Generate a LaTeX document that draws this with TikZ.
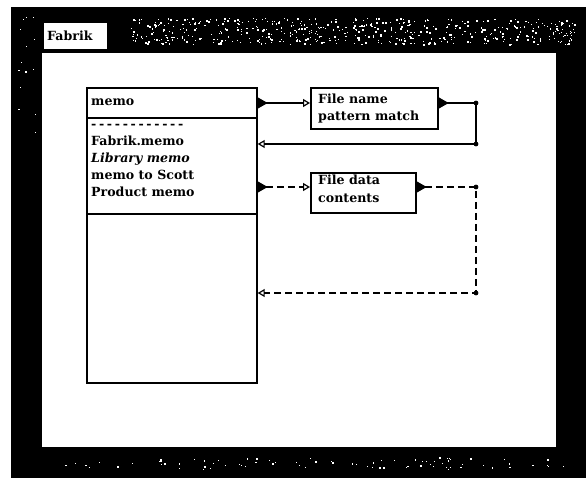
\documentclass[tikz,border=0pt]{standalone}
\usepackage{fontspec}
\setmainfont{DejaVu Serif}
\usetikzlibrary{arrows.meta}

% one spaced hyphen of the separator line in the file list
\newcommand\sepdash{\makebox[7.9pt][l]{-}}

\tikzset{
  win/.style={line width=1.7pt, draw=black, fill=white, inner sep=0pt,
              anchor=north west},
  label/.style={font=\fontsize{12.6}{17}\selectfont\bfseries,
                inner sep=0pt, anchor=base west},
  wire/.style={line width=1.5pt,
    arrows={Triangle[reversed,length=10pt,width=11pt]-Triangle[open,length=7pt,width=8pt,line width=1.2pt]}},
  dashwire/.style={wire, dash pattern=on 7pt off 4pt},
  joint/.style={fill=black}
}

\begin{document}
\begin{tikzpicture}[x=1pt,y=-1pt]
\useasboundingbox (0,0) rectangle (586,478);

% window frame and speckled title bar
\fill[black] (11,7) rectangle (586,478);
\pgfmathsetseed{42}
\foreach \i in {1,...,520}{
  \pgfmathsetmacro\px{130+445*rnd}
  \pgfmathsetmacro\py{18+26*rnd}
  \pgfmathsetmacro\ps{0.6+1.4*rnd}
  \fill[white] (\px,\py) rectangle ++(\ps,\ps);
}
\foreach \i in {1,...,80}{
  \pgfmathsetmacro\px{24+540*rnd}
  \pgfmathsetmacro\py{457+12*rnd}
  \pgfmathsetmacro\ps{0.6+1.1*rnd}
  \fill[white] (\px,\py) rectangle ++(\ps,\ps);
}
\foreach \i in {1,...,14}{
  \pgfmathsetmacro\px{15+20*rnd}
  \pgfmathsetmacro\py{15+130*rnd}
  \pgfmathsetmacro\ps{0.6+0.9*rnd}
  \fill[white] (\px,\py) rectangle ++(\ps,\ps);
}
\fill[white] (44,23) rectangle (107,49);
\node[label] (title) at (47,41) {Fabrik};
\fill[white] (42,53) rectangle (556,447);

% file browser column: pattern field, file list, file view
\node[win, minimum width=170pt, minimum height=30pt] (memo) at (86,87) {};
\node[label] (pattern) at (91,106) {memo};
\node[win, minimum width=170pt, minimum height=96pt] (list) at (86,117) {};
\node[label] (rule)  at (91,129) {\sepdash\sepdash\sepdash\sepdash\sepdash\sepdash\sepdash\sepdash\sepdash\sepdash\sepdash\sepdash};
\node[label] (f1) at (91,146) {Fabrik.memo};
\node[label] (f2) at (91,163) {\itshape Library memo};
\node[label] (f3) at (91,180) {memo to Scott};
\node[label] (f4) at (91,197) {Product memo};
\node[win, minimum width=170pt, minimum height=169pt] (view) at (86,213) {};

% filter boxes
\node[win, minimum width=127pt, minimum height=41pt] (fname) at (310,87) {};
\node[label] (fn1) at (318,104) {File name};
\node[label] (fn2) at (318,121) {pattern match};
\node[win, minimum width=105pt, minimum height=40pt] (fdata) at (310,172) {};
\node[label] (fd1) at (318,185) {File data};
\node[label] (fd2) at (318,203) {contents};

% pattern-match loop
\coordinate (a1) at (476,103);
\coordinate (a2) at (476,144);
\draw[wire] (memo.east |- a1) -- (fname.west |- a1);
\draw[wire] (fname.east |- a1) -- (a1) -- (a2) -- (a2 -| list.east);
\fill[joint] (a1) circle (2.4pt) (a2) circle (2.4pt);

% contents loop
\coordinate (b1) at (476,187);
\coordinate (b2) at (476,293);
\draw[dashwire] (list.east |- b1) -- (fdata.west |- b1);
\draw[dashwire] (fdata.east |- b1) -- (b1) -- (b2) -- (b2 -| view.east);
\fill[joint] (b1) circle (2.4pt) (b2) circle (2.4pt);
\end{tikzpicture}
\end{document}
